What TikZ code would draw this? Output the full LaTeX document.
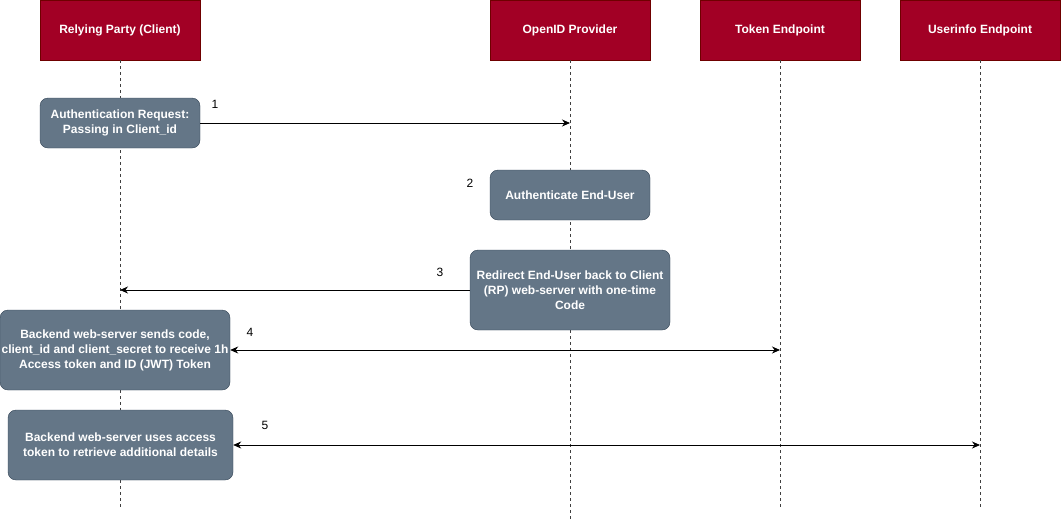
\documentclass[tikz,border=0pt]{standalone}
\usepackage{fontspec}
\setmainfont{Liberation Sans}
\usetikzlibrary{arrows.meta,positioning}
\definecolor{hdred}{HTML}{A20025}
\definecolor{hdline}{HTML}{6F0000}
\definecolor{stepfill}{HTML}{647687}
\definecolor{stepline}{HTML}{314354}
\tikzset{%
   actor/.style={rectangle, draw=hdline, fill=hdred, text=white, font=\bfseries\fontsize{12}{15}\selectfont, minimum width=160pt, minimum height=60pt, inner sep=0pt},
   stepbox/.style={rectangle, rounded corners=8pt, draw=stepline, fill=stepfill, text=white, font=\bfseries\fontsize{12}{15}\selectfont, align=center, inner sep=0pt},
   life/.style={draw=black!75, dash pattern=on 3pt off 3pt, line width=1pt},
   msg/.style={-{Stealth[length=8pt,width=7pt]}, line width=0.8pt},
   both/.style={{Stealth[length=8pt,width=7pt]}-{Stealth[length=8pt,width=7pt]}, line width=0.8pt},
   num/.style={font=\fontsize{12}{15}\selectfont},
}

\begin{document}
\begin{tikzpicture}[x=1pt, y=-1pt]
      \useasboundingbox (0,0) rectangle (1061,523);
      % participants
      \node[actor] (rp) at (120,30) {Relying Party (Client)};
      \node[actor] (op) at (570,30) {OpenID Provider};
      \node[actor] (tok) at (780,30) {Token Endpoint};
      \node[actor] (ui) at (980,30) {Userinfo Endpoint};
      \foreach \n/\e in {rp/510, op/520, tok/510, ui/510}
         \draw[life] (\n.south) -- (\n.south |- 0,\e);
      % steps
      \node[stepbox, minimum width=160pt, minimum height=50pt] (s1) at (120,123) {Authentication Request:\\Passing in Client\_id};
      \node[stepbox, minimum width=160pt, minimum height=50pt] (s2) at (570,195) {Authenticate End-User};
      \node[stepbox, minimum width=200pt, minimum height=80pt] (s3) at (570,290) {Redirect End-User back to Client\\(RP) web-server with one-time\\Code};
      \node[stepbox, minimum width=230pt, minimum height=80pt] (s4) at (115,350) {Backend web-server sends code,\\client\_id and client\_secret to receive 1h\\Access token and ID (JWT) Token};
      \node[stepbox, minimum width=225pt, minimum height=70pt] (s5) at (120.5,445) {Backend web-server uses access\\token to retrieve additional details};
      \draw[msg] (s1.east) -- (s1.east -| op);
      \draw[msg] (s3.west) -- (s3.west -| rp);
      \draw[both] (s4.east) -- (s4.east -| tok);
      \draw[both] (s5.east) -- (s5.east -| ui);
      % numbers
      \node[num] (n1) at (215,104) {1};
      \node[num] (n2) at (470,183) {2};
      \node[num] (n3) at (440,272) {3};
      \node[num] (n4) at (250,332) {4};
      \node[num] (n5) at (265,425) {5};
   \end{tikzpicture}
\end{document}
